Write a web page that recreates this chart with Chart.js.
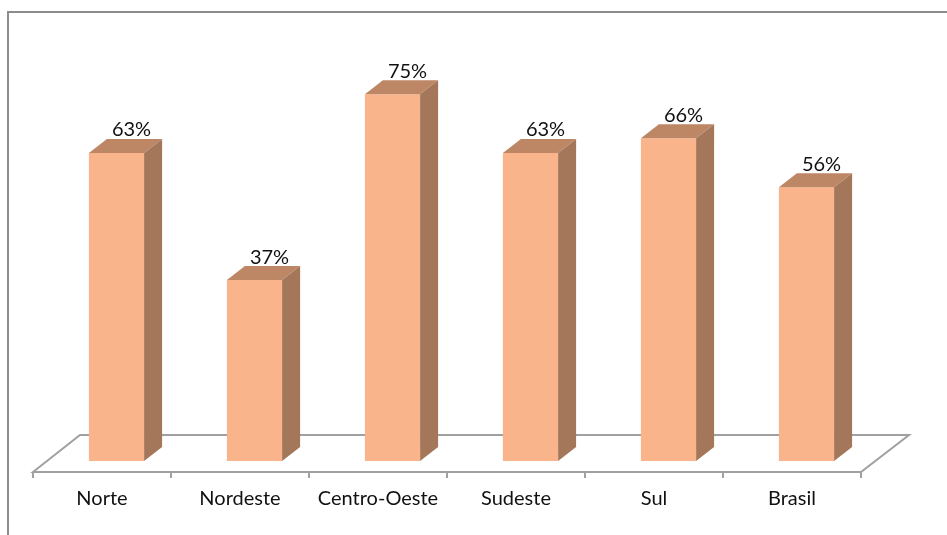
<!DOCTYPE html>
<html>
<head>
<meta charset="utf-8">
<title>Norte, Nordeste, Centro-Oeste, Sudeste, Sul, Brasil</title>
<script src="https://cdn.jsdelivr.net/npm/chart.js@4"></script>
<style>
  html, body { margin: 0; padding: 0; background: #fff; overflow: hidden; }
  canvas { display: block; filter: blur(0.4px); }
</style>
</head>
<body>
<canvas id="chart" width="947" height="535"></canvas>
<script>
const categories = ['Norte', 'Nordeste', 'Centro-Oeste', 'Sudeste', 'Sul', 'Brasil'];
const values = [63, 37, 75, 63, 66, 56];

const colors = {
    front: '#f9b48c',
    side: '#a5775a',
    top: '#bd8766',
    floor: '#a0a0a0',
    frame: '#8c8c8c',
    text: '#111111',
};
const fontFamily = 'Lato, "Open Sans", sans-serif';
const depthX = 18;
const depthY = 14;

function fillFace(ctx, color, pts) {
    ctx.fillStyle = color;
    ctx.beginPath();
    pts.forEach((p, i) => i ? ctx.lineTo(p[0], p[1]) : ctx.moveTo(p[0], p[1]));
    ctx.closePath();
    ctx.fill();
}

function strokeLine(ctx, x1, y1, x2, y2) {
    ctx.beginPath();
    ctx.moveTo(x1, y1);
    ctx.lineTo(x2, y2);
    ctx.stroke();
}

// Draws the frame, the floor plate and the 3D sides, which Chart.js does not have
const bars3d = {
    id: 'bars3d',
    afterDatasetsUpdate(chart) {
        // the bars stand in the middle of the plate, not over their labels
        const x = chart.scales.x;
        chart.getDatasetMeta(0).data.forEach((bar, i) => {
            bar.x = x.getPixelForValue(i) + 14.5;
        });
    },
    beforeDatasetsDraw(chart) {
        const ctx = chart.ctx;
        const { left, right, bottom } = chart.chartArea;
        ctx.save();
        ctx.strokeStyle = colors.frame;
        ctx.lineWidth = 2;
        strokeLine(ctx, 8, 12, 8, chart.height);
        strokeLine(ctx, 7, 12, chart.width, 12);

        ctx.strokeStyle = colors.floor;
        const front = bottom + 11;
        const back = bottom - 26;
        ctx.beginPath();
        ctx.moveTo(left, front);
        ctx.lineTo(left + 47, back);
        ctx.lineTo(right + 48, back);
        ctx.lineTo(right, front);
        ctx.closePath();
        ctx.stroke();
        const step = (right - left) / categories.length;
        for (let i = 0; i <= categories.length; i++) {
            strokeLine(ctx, left + step * i, front, left + step * i, front + 6);
        }
        ctx.restore();
    },
    afterDatasetsDraw(chart) {
        const ctx = chart.ctx;
        ctx.save();
        chart.getDatasetMeta(0).data.forEach((bar, i) => {
            const l = bar.x - bar.width / 2;
            const r = bar.x + bar.width / 2;
            fillFace(ctx, colors.top, [[l, bar.y], [r, bar.y], [r + depthX, bar.y - depthY], [l + depthX, bar.y - depthY]]);
            fillFace(ctx, colors.side, [[r, bar.y], [r + depthX, bar.y - depthY], [r + depthX, bar.base - depthY], [r, bar.base]]);
            ctx.fillStyle = colors.text;
            ctx.font = '20px ' + fontFamily;
            ctx.textAlign = 'center';
            ctx.textBaseline = 'middle';
            ctx.fillText(values[i] + '%', bar.x + 15, bar.y - 23);
        });
        ctx.restore();
    }
};

new Chart(document.getElementById('chart'), {
    type: 'bar',
    data: {
        labels: categories,
        datasets: [{
            data: values,
            backgroundColor: colors.front,
            barPercentage: 0.4,
            categoryPercentage: 1,
        }]
    },
    options: {
        responsive: false,
        animation: false,
        layout: { padding: { left: 33, right: 86, top: 21, bottom: 0 } },
        plugins: {
            legend: { display: false },
            tooltip: { enabled: false },
        },
        scales: {
            x: {
                grid: { display: false, drawTicks: false },
                border: { display: false },
                ticks: {
                    color: colors.text,
                    font: { family: fontFamily, size: 20 },
                    padding: 26,
                    maxRotation: 0,
                    autoSkip: false,
                },
                afterFit(scale) { scale.height = 74; },
            },
            y: {
                display: false,
                min: 0,
                max: 90,
            }
        }
    },
    plugins: [bars3d]
});
</script>
</body>
</html>
